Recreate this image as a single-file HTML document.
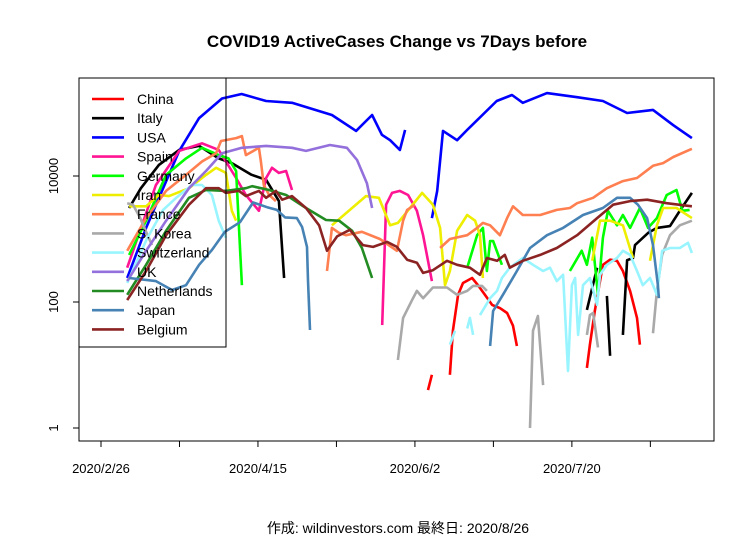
<!DOCTYPE html>
<html><head><meta charset="utf-8"><style>
body{margin:0;background:#fff}
svg{display:block;font-family:"Liberation Sans","Noto Sans CJK JP",sans-serif}
</style></head><body>
<svg id="chart" width="756" height="540" viewBox="0 0 756 540">
<rect x="0" y="0" width="756" height="540" fill="#fff"/>
<text x="397" y="47" text-anchor="middle" font-size="17" font-weight="bold">COVID19 ActiveCases Change vs 7Days before</text>
<g id="series"></g>
<rect x="79" y="78" width="635" height="363" fill="none" stroke="#000" stroke-width="1"/>
<g id="axes"></g>
<g id="legend"></g>
<text x="398" y="533" text-anchor="middle" font-size="14">作成: wildinvestors.com 最終日: 2020/8/26</text>
</svg>
<script>
// days since 2020/2/26
const chinaDays=[100,101.2,null,106.7,107.6,109.2,110.7,113.5,115.3,117.4,119.6,122,124.2,126,127.2,null,148.6,149.5,151,153.5,155.7,157.8,159.6,161.8,163.9,164.8];
const chinaVals=[4,7,null,7,35,130,200,240,185,130,90,80,67,42,20,null,9,21,72,390,470,450,310,150,56,21];
const italyDays=[8.6,12.2,17.7,23.9,30,36,40,46,50.5,54.4,56,null,148.6,151.7,null,154.7,155.7,null,159.6,160.9,162.7,163.3,167.3,170,174,177,180.7];
const italyVals=[3100,6400,15000,26000,30000,19000,16000,10500,8700,4000,240,null,75,350,null,125,14,null,30,460,500,800,1250,1500,1600,2800,5400];
const usaDays=[8,13.8,23.9,30,37,43,50.5,58.4,70.6,78,82.9,85.9,88.4,91.4,93,null,101.2,102.8,104.6,108.9,112,121,125.7,129,136.4,145.6,153.5,160.9,168.8,175,180.7];
const usaVals=[240,1500,25000,83000,170000,200000,155000,145000,93000,52000,93000,45000,37000,26000,54000,null,2150,5800,52000,37000,54000,155000,193000,145000,207000,178000,155000,100000,112000,64000,40000];
const spainDays=[8,16.8,23.9,30.9,36,41.3,44.3,48.3,50.5,52.3,54.4,56.6,58.4,null,86,87.2,89,91.4,93.9,96.6,98.5,101.2];
const spainVals=[350,7200,25000,33000,26000,9300,5000,2800,9300,13500,11200,12000,6000,null,43,3500,5400,5800,5000,2800,1150,215];
const germanyDays=[8.6,13.8,19.9,26,30.9,36,39,41.3,43.1,null,112,115,116.8,118,119,119.9,122.6,null,143.4,147,148.6,150.2,152,153.5,155,157.8,159.6,161.8,164.8,167.3,170,173,176,177.8,180];
const germanyVals=[560,1950,10400,19000,28000,21500,19000,12000,185,null,350,1150,1500,310,930,930,390,null,310,650,390,1050,130,1050,2800,1650,2400,1500,3100,1500,2150,5000,6000,2800,2900];
const iranDays=[8.6,13.8,17.7,20.8,26.9,32.1,35.2,38.2,40,41.3,null,70.6,81,85,88.4,90.8,94.5,98.2,101.5,103.7,105.2,106.7,108.9,112,114.4,115.9,116.8,null,150.2,152.6,155.7,159.6,162.7,null,167.9,170,171.9,176,180.7];
const iranVals=[3300,3300,5000,4800,6400,10400,13500,11200,2800,1950,null,1650,4800,4500,1650,1800,3100,5400,3500,1500,185,310,1350,2400,1950,1150,240,null,450,1950,1950,1650,500,null,450,1650,3100,3100,2150];
const franceDays=[8,13.8,19.9,26,30.9,35.2,36.7,41.3,43.1,44.3,48.3,48.9,49.8,51.4,53.5,null,69.1,70.6,72.8,74.9,79.8,85.3,90.5,92.4,93.6,96,null,103.7,106.7,112,115,116.8,119,122,124.2,126,129,134.3,139.4,143.4,145.6,150.5,154.7,159.6,163.9,168.8,171.9,175,180.7];
const franceVals=[650,2150,5800,10400,17000,23000,36000,40000,43000,21500,28000,17000,7200,5000,4000,null,310,1500,1250,1150,1300,1000,650,1950,2900,3500,null,720,1000,1150,1500,1800,1650,1150,2150,3300,2400,2400,2900,3100,3700,4500,6400,8300,9300,14500,16000,20000,27000];
const koreaDays=[8,9.8,11.9,13.8,15.6,null,90.8,92.4,95.4,96.6,98.5,101.5,105.8,108.9,112,113.8,116.5,118,null,131.2,132.1,133.6,135.2,null,148.6,149.5,150.5,152,null,168.8,170,171.6,174,177,180.7];
const koreaVals=[3700,3500,2200,1300,800,null,12,56,115,150,115,170,170,130,150,180,180,150,null,1,35,60,4.8,null,30,62,67,19,null,32,150,560,1150,1650,1950];
const swissDays=[8,14,19,23.2,27.8,30.9,33.9,36,38.2,null,106.7,108.3,null,112,112.8,113.8,null,115.9,119,121.1,122.6,125,129,132.1,135.2,137.3,139.4,141.3,142.8,144,145,145.9,147.4,149.5,151.7,152.6,154.7,157.8,159.6,161.8,163.9,165.7,167.9,170,171.6,174,177,179.5,180.7];
const swissVals=[200,1000,2900,4600,7200,7200,5000,1950,1050,null,21,35,null,38,56,30,null,62,115,150,240,350,500,390,310,350,215,270,8,185,240,30,185,240,90,270,390,500,650,560,310,185,240,130,650,720,720,870,600];
const ukDays=[8,13.8,19.9,26.9,32.1,37,43.1,50.5,58.4,62.7,70,75.2,78.3,81.3,82.9];
const ukVals=[215,650,1950,6400,12000,23000,28000,30000,28000,25000,31000,28000,18000,7700,3100];
const nlDays=[8,13.8,19.9,26.9,32.1,38.2,44.3,46.2,51.4,56.6,62.7,68.8,72.8,76.8,79.8,82.9];
const nlVals=[130,390,1350,4500,6000,5800,6400,6900,6000,5000,3100,2000,1950,1350,720,240];
const japanDays=[8.6,16.8,21.7,26,30,33.9,37.9,42.5,46.5,50.8,53.8,56.3,59.9,61.5,63,63.3,63.9,null,119,119.9,122.9,127.2,131.2,136.4,141.3,147.4,153.5,157.8,161.8,164.2,167,168.8,170.3,170.6];
const japanVals=[240,215,155,185,390,670,1300,1850,3800,3200,2900,2200,2150,1550,750,220,36,null,20,72,130,310,720,1150,1500,2400,3100,4500,4500,3500,2150,800,185,115];
const belgiumDays=[8,13.8,19.9,26.9,32.1,36,38.2,42.2,44.3,48.3,50.5,53.5,55.4,58.4,62.7,66.7,69.1,72.2,76.1,80.1,83.2,87.5,90.5,93.6,96.6,98.5,101.5,105.8,108.9,112.8,115.9,118,121.1,123.5,125,129,134.3,139.4,145.6,151.7,156.6,161.8,167,173,180.7];
const belgiumVals=[107,310,1150,3500,6400,6400,5400,5800,4800,5800,4500,5800,4200,4800,3100,1650,650,1100,1400,800,750,900,750,470,420,290,320,450,390,350,270,500,450,560,350,450,560,720,1150,2150,3500,4000,4200,3700,3300];

const seriesNames=["China","Italy","USA","Spain","Germany","Iran","France","S. Korea","Switzerland","UK","Netherlands","Japan","Belgium"];
const seriesColors=["#FF0000","#000000","#0000FF","#FF1493","#00FF00","#EEEE00","#FF7F50","#A9A9A9","#98F5FF","#9370DB","#228B22","#4682B4","#8B2323"];
const seriesDays=[chinaDays,italyDays,usaDays,spainDays,germanyDays,iranDays,franceDays,koreaDays,swissDays,ukDays,nlDays,japanDays,belgiumDays];
const seriesVals=[chinaVals,italyVals,usaVals,spainVals,germanyVals,iranVals,franceVals,koreaVals,swissVals,ukVals,nlVals,japanVals,belgiumVals];
const yTickVals=[1,100,10000];
const xTickDays=[0,24,48,72,96,120,144,168];
const xTickLabels=["2020/2/26","","2020/4/15","","2020/6/2","","2020/7/20",""];

const NS="http://www.w3.org/2000/svg";
function xs(d){return 101+d*3.27;}
function ys(v){return 428-63*Math.log10(v);}
function mk(t,a,p){const e=document.createElementNS(NS,t);for(const k in a)e.setAttribute(k,a[k]);p.appendChild(e);return e;}

const sg=document.getElementById('series');
seriesNames.forEach((name,i)=>{
  const ds=seriesDays[i],vs=seriesVals[i];
  let d="",pen=false;
  for(let j=0;j<ds.length;j++){
    if(ds[j]===null||vs[j]===null){pen=false;continue;}
    d+=(pen?"L":"M")+xs(ds[j]).toFixed(1)+","+ys(vs[j]).toFixed(1);
    pen=true;
  }
  const p=mk('path',{d:d,fill:'none',stroke:seriesColors[i],'stroke-width':2.6,'stroke-linejoin':'round'},sg);
  
  
});

const ax=document.getElementById('axes');
const yl=mk('line',{x1:79,x2:79,y1:ys(yTickVals[yTickVals.length-1]),y2:ys(yTickVals[0]),stroke:'#000'},ax);


yTickVals.forEach(v=>{
  const t=mk('line',{x1:73,x2:79,y1:ys(v),y2:ys(v),stroke:'#000'},ax);
  
  
  const y=ys(v);
  const tx=mk('text',{x:58,y:y,'text-anchor':'middle','font-size':13,transform:'rotate(-90 58 '+y+')'},ax);
  tx.textContent=String(v);
  
  
});
const xl=mk('line',{x1:xs(xTickDays[0]),x2:xs(xTickDays[xTickDays.length-1]),y1:441,y2:441,stroke:'#000'},ax);


xTickDays.forEach((d,i)=>{
  const t=mk('line',{x1:xs(d),x2:xs(d),y1:441,y2:447,stroke:'#000'},ax);
  
  
  if(xTickLabels[i]){
    const tx=mk('text',{x:xs(d),y:473,'text-anchor':'middle','font-size':13},ax);
    tx.textContent=xTickLabels[i];
    
    
  }
});

const lg=document.getElementById('legend');
const lb=mk('rect',{x:79,y:78,width:147,height:269,fill:'none',stroke:'#000'},lg);


seriesNames.forEach((name,i)=>{
  const y=99+i*19.2;
  const g=mk('g',{},lg);
  
  
  mk('line',{x1:92,x2:124,y1:y,y2:y,stroke:seriesColors[i],'stroke-width':2.6},g);
  const t=mk('text',{x:137,y:y+5,'font-size':14},g);
  t.textContent=name;
});
</script>
</body></html>
